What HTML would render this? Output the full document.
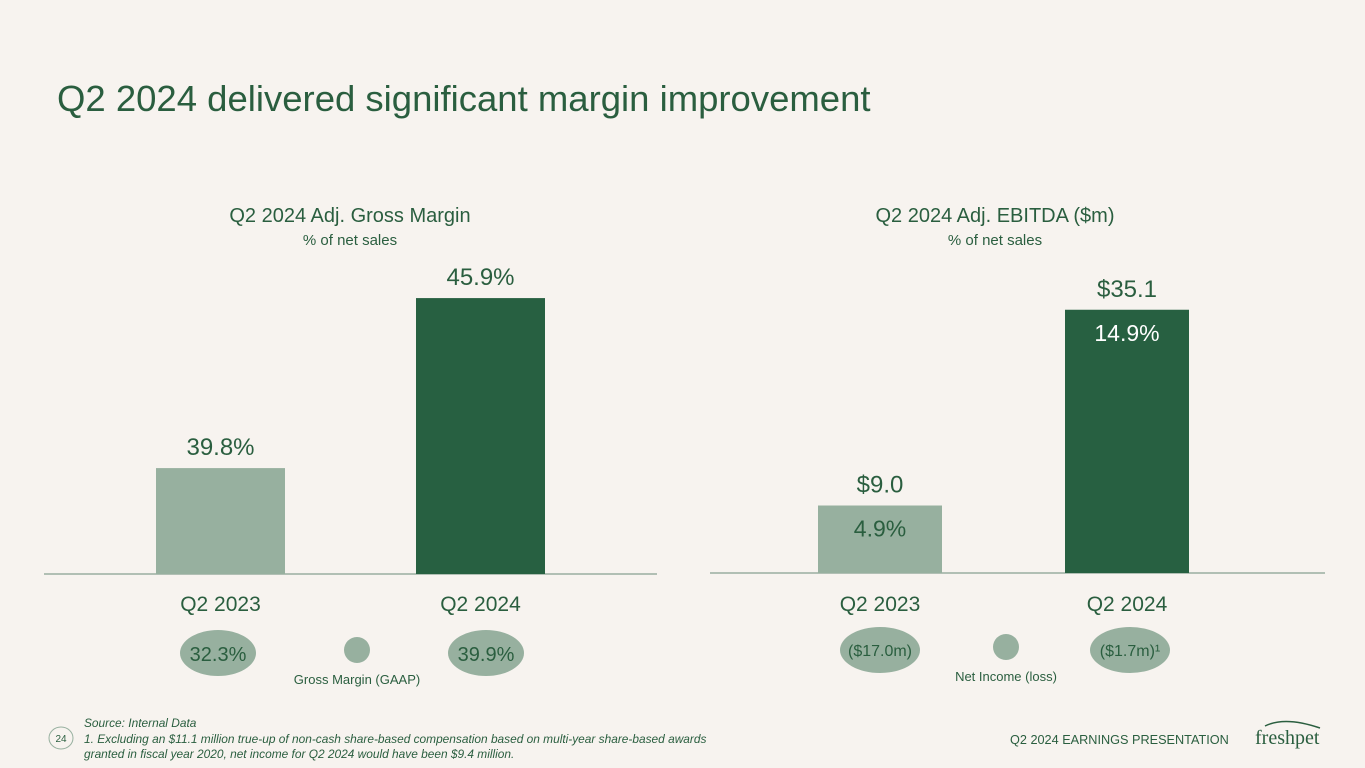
<!DOCTYPE html>
<html><head><meta charset="utf-8"><style>
body{margin:0;background:#f7f3ef;font-family:"Liberation Sans",sans-serif;}
svg{display:block}
</style></head><body>
<svg id="s" width="1365" height="768" viewBox="0 0 1365 768">
<rect width="1365" height="768" fill="#f7f3ef"/>
<text x="57" y="111" font-size="36.5" fill="#2a5e3f">Q2 2024 delivered significant margin improvement</text>
<text x="350" y="222" font-size="20" fill="#2a5e3f" text-anchor="middle">Q2 2024 Adj. Gross Margin</text>
<text x="350" y="245" font-size="15" fill="#2a5e3f" text-anchor="middle">% of net sales</text>
<text x="995" y="222" font-size="20" fill="#2a5e3f" text-anchor="middle">Q2 2024 Adj. EBITDA ($m)</text>
<text x="995" y="245" font-size="15" fill="#2a5e3f" text-anchor="middle">% of net sales</text>
<g id="lc"></g>
<g id="rc"></g>
<ellipse cx="218" cy="653" rx="38" ry="23" fill="#97b09f"/>
<text x="218" y="661" font-size="20" fill="#2a5e3f" text-anchor="middle">32.3%</text>
<ellipse cx="486" cy="653" rx="38" ry="23" fill="#97b09f"/>
<text x="486" y="661" font-size="20" fill="#2a5e3f" text-anchor="middle">39.9%</text>
<circle cx="357" cy="650" r="13" fill="#97b09f"/>
<text x="357" y="684" font-size="13" fill="#2a5e3f" text-anchor="middle">Gross Margin (GAAP)</text>
<ellipse cx="880" cy="650" rx="40" ry="23" fill="#97b09f"/>
<text x="880" y="656" font-size="16" fill="#2a5e3f" text-anchor="middle">($17.0m)</text>
<ellipse cx="1130" cy="650" rx="40" ry="23" fill="#97b09f"/>
<text x="1130" y="656" font-size="16" fill="#2a5e3f" text-anchor="middle">($1.7m)¹</text>
<circle cx="1006" cy="647" r="13" fill="#97b09f"/>
<text x="1006" y="681" font-size="13" fill="#2a5e3f" text-anchor="middle">Net Income (loss)</text>
<ellipse cx="61" cy="738" rx="12" ry="11" fill="none" stroke="#97b09f"/>
<text x="61" y="742" font-size="10" fill="#2a5e3f" text-anchor="middle">24</text>
<g font-size="11.9" font-style="italic" fill="#2a5e3f">
<text x="84" y="727">Source: Internal Data</text>
<text x="84" y="743">1. Excluding an $11.1 million true-up of non-cash share-based compensation based on multi-year share-based awards</text>
<text x="84" y="758">granted in fiscal year 2020, net income for Q2 2024 would have been $9.4 million.</text>
</g>
<text x="1010" y="744" font-size="12.7" fill="#2a5e3f">Q2 2024 EARNINGS PRESENTATION</text>
<text x="1255" y="744" font-size="20" font-family="Liberation Serif, serif" fill="#2a5e3f">freshpet</text>
<path d="M1265 726 Q1285 716 1320 728" stroke="#2a5e3f" stroke-width="1.5" fill="none"/>
</svg>
<script>
const categories=["Q2 2023","Q2 2024"];
const grossMargin=[39.8,45.9];
const gmLabels=["39.8%","45.9%"];
const ebitda=[9.0,35.1];
const ebitdaLabels=["$9.0","$35.1"];
const ebitdaPct=["4.9%","14.9%"];
const colors=["#97b09f","#276041"];
const NS="http://www.w3.org/2000/svg";
function mk(p,t,a,txt){const e=document.createElementNS(NS,t);for(const k in a)e.setAttribute(k,a[k]);if(txt)e.textContent=txt;p.appendChild(e);return e;}
function drawChart(g,x0,x1,base,bx,bw,yfn,vals,labels,inner,prefix){
  const ax=mk(g,'line',{x1:x0,x2:x1,y1:base,y2:base,stroke:'#9aaea0','stroke-width':1.5});
  
  
  vals.forEach((v,i)=>{
    const y=yfn(v);
    const r=mk(g,'rect',{x:bx[i],y:y,width:bw,height:base-y,fill:colors[i]});
    
    
    const t=mk(g,'text',{x:bx[i]+bw/2,y:y-13,'font-size':24,fill:'#2a5e3f','text-anchor':'middle'},labels[i]);
    
    
    if(inner){const it=mk(g,'text',{x:bx[i]+bw/2,y:y+31,'font-size':23,fill:i?'#ffffff':'#2a5e3f','text-anchor':'middle'},inner[i]);
      
      }
    const c=mk(g,'text',{x:bx[i]+bw/2,y:611,'font-size':21,fill:'#2a5e3f','text-anchor':'middle'},categories[i]);
    
    
  });
}
const yL=v=>574-(v-36.0)*27.87;
const yR=v=>573-v*7.5;
drawChart(document.getElementById('lc'),44,657,574,[156,416],129,yL,grossMargin,gmLabels,null,'gm');
drawChart(document.getElementById('rc'),710,1325,573,[818,1065],124,yR,ebitda,ebitdaLabels,ebitdaPct,'ebitda');
</script>
</body></html>
